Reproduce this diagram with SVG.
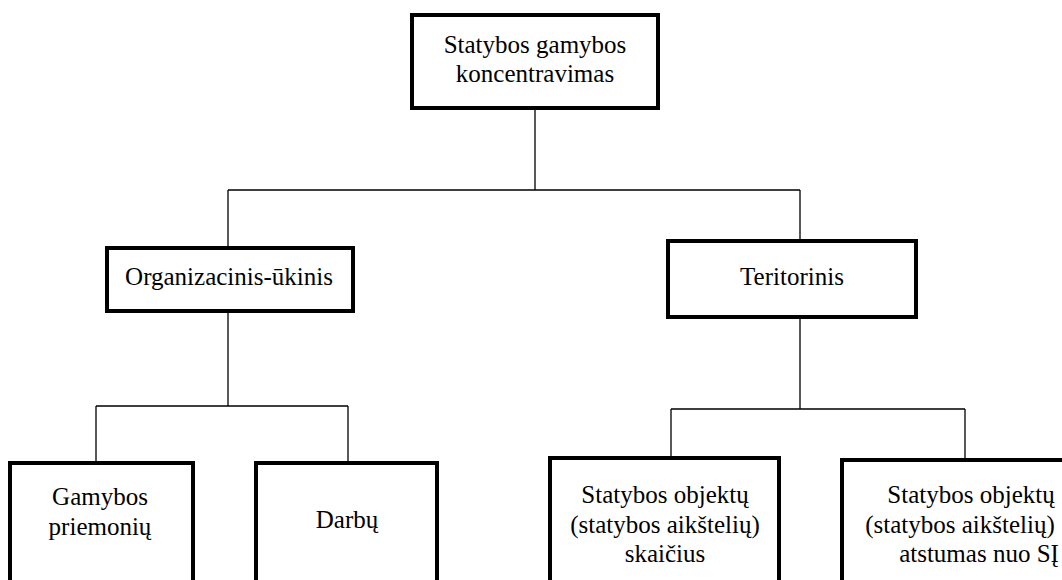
<svg xmlns="http://www.w3.org/2000/svg" width="1062" height="580" viewBox="0 0 1062 580">
<style>
.box{fill:#fff;stroke:#000;stroke-width:4}
.t{font-family:"Liberation Serif","Times New Roman",serif;font-size:25px;fill:#000;text-anchor:middle}
.c{fill:none;stroke:#000;stroke-width:1.3}
</style>
<rect width="1062" height="580" fill="#fff"/>
<g id="connectors">
<path class="c" d="M535 108V190M228 190H800M228 190V248M800 190V241"/>
<path class="c" d="M228 312V406M96 406H348M96 406V463M348 406V463"/>
<path class="c" d="M800 317V409M671 409H965M671 409V458M965 409V460"/>
</g>
<g id="root">
<rect class="box" x="412" y="15" width="246" height="93"/>
<text class="t" x="535" y="53">Statybos gamybos</text>
<text class="t" x="535" y="82">koncentravimas</text>
</g>
<g id="organizacinis">
<rect class="box" x="107" y="248" width="246" height="63"/>
<text class="t" x="229" y="285">Organizacinis-ūkinis</text>
</g>
<g id="teritorinis">
<rect class="box" x="668" y="241" width="248" height="76"/>
<text class="t" x="792" y="285">Teritorinis</text>
</g>
<g id="gamybos">
<rect class="box" x="10" y="463" width="183" height="140"/>
<text class="t" x="100" y="505">Gamybos</text>
<text class="t" x="100" y="535">priemonių</text>
</g>
<g id="darbu">
<rect class="box" x="256" y="463" width="181" height="140"/>
<text class="t" x="347" y="528">Darbų</text>
</g>
<g id="skaicius">
<rect class="box" x="550" y="458" width="229" height="145"/>
<text class="t" x="665" y="503">Statybos objektų</text>
<text class="t" x="665" y="533">(statybos aikštelių)</text>
<text class="t" x="665" y="562">skaičius</text>
</g>
<g id="atstumas">
<rect class="box" x="842" y="460" width="240" height="145"/>
<text class="t" x="971" y="503">Statybos objektų</text>
<text class="t" x="960" y="533">(statybos aikštelių)</text>
<text class="t" x="979" y="562">atstumas nuo SĮ</text>
</g>
</svg>
